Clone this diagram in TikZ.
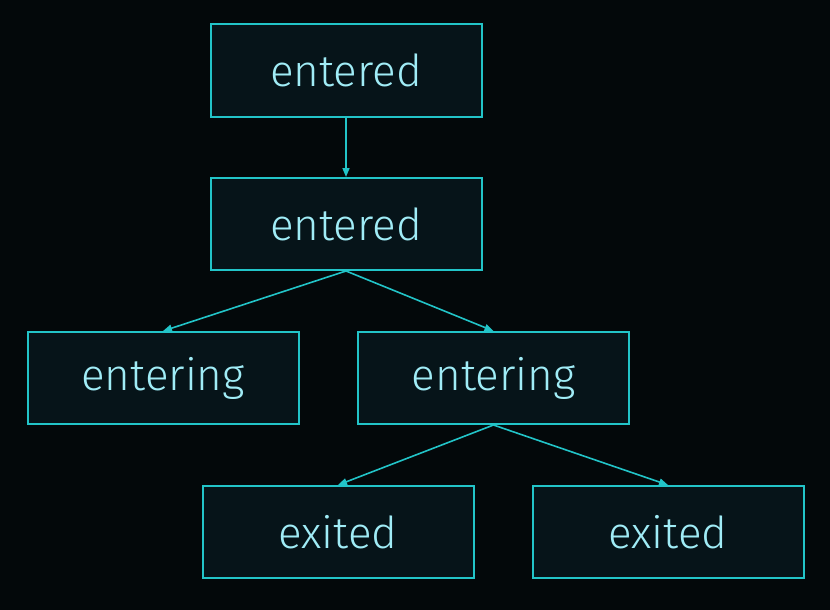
\documentclass[tikz,border=0pt]{standalone}
\usepackage{fontspec}
\setmainfont{Fira Sans}[UprightFont=* Light]
\usepackage{tikz}
\usetikzlibrary{arrows.meta,positioning,backgrounds}
\definecolor{bgcol}{HTML}{03080A}
\definecolor{boxfill}{HTML}{061419}
\definecolor{boxline}{HTML}{22C4C8}
\definecolor{boxtext}{HTML}{A0ECF6}
\tikzset{
%Define standard arrow tip
>={Triangle[length=9pt,width=7pt]},
%Define style for the state boxes
state box/.style={draw=boxline, fill=boxfill, line width=2pt,
  minimum width=271pt, minimum height=92pt, inner sep=0pt,
  text=boxtext, font=\fontsize{44}{52}\selectfont},
connection/.style={->, draw=boxline, line width=1.6pt},
}

\begin{document}
\begin{tikzpicture}[x=1pt,y=-1pt]
    %Background and fixed size
    \fill[bgcol] (0,0) rectangle (830,610);
    \useasboundingbox (0,0) rectangle (830,610);
    %The states
    \node[state box] (top) at (346,70.5) {entered};
    \node[state box] (mid) at (346,224) {entered};
    \node[state box] (entl) at (163,378) {entering};
    \node[state box] (entr) at (493.5,378) {entering};
    \node[state box] (exl) at (338,532) {exited};
    \node[state box] (exr) at (668,532) {exited};
    %Connections
    \draw[connection] (top.south) -- (mid.north);
    \draw[connection] (mid.south) -- (entl.north);
    \draw[connection] (mid.south) -- (entr.north);
    \draw[connection] (entr.south) -- (exl.north);
    \draw[connection] (entr.south) -- (exr.north);
\end{tikzpicture}
\end{document}
